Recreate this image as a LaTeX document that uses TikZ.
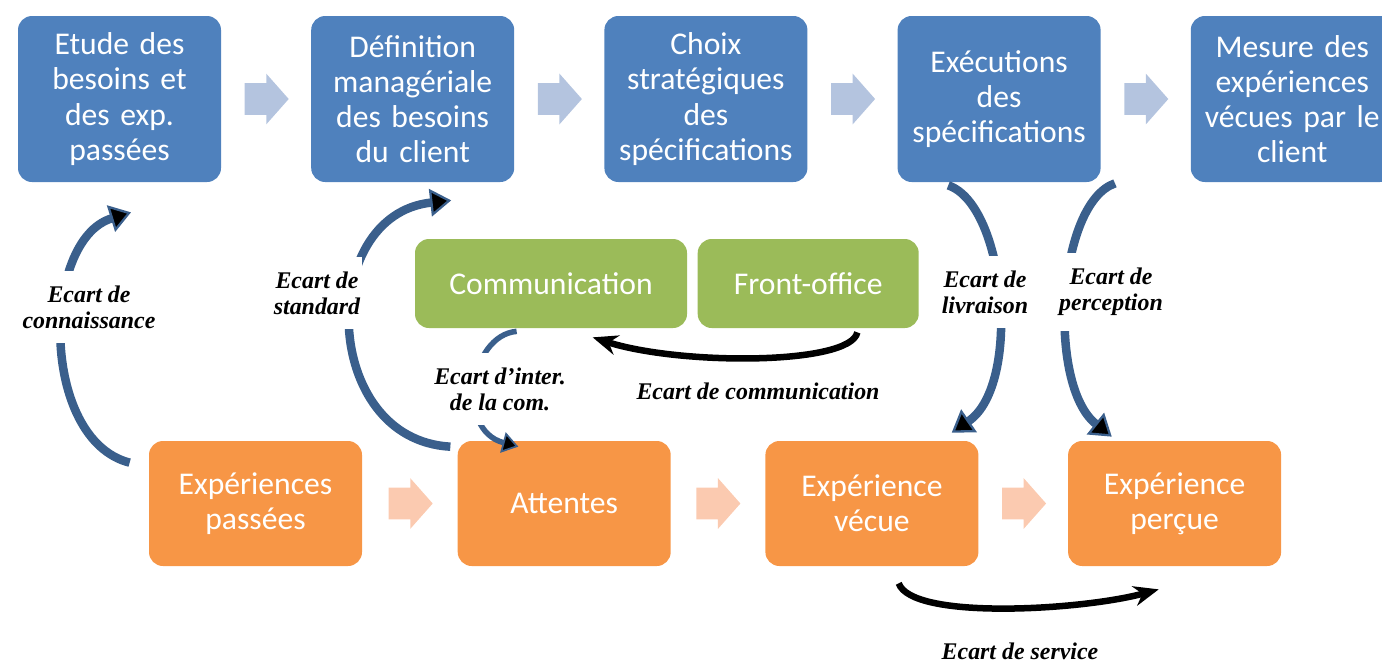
\documentclass[tikz,border=0pt]{standalone}
\usepackage{fontspec}
\setmainfont{Carlito}
\newfontfamily\gapfont{Liberation Serif}
\usetikzlibrary{shapes.arrows, arrows.meta, positioning, calc}
\definecolor{boxblue}{HTML}{4F81BD}
\definecolor{boxgreen}{HTML}{9BBB59}
\definecolor{boxorange}{HTML}{F79646}
\definecolor{flowblue}{HTML}{B4C4DF}
\definecolor{floworange}{HTML}{FBCAB0}
\definecolor{gapblue}{HTML}{3A5F8C}
\tikzstyle{topbox} = [rectangle, rounded corners=0.28cm, minimum width=4.06cm, minimum height=3.32cm, text width=3.9cm, inner xsep=0.08cm, align=center, fill=boxblue, text=white, font=\fontsize{18}{20}\selectfont]
\tikzstyle{midbox} = [rectangle, rounded corners=0.28cm, minimum height=1.78cm, inner xsep=0.08cm, align=center, fill=boxgreen, text=white, font=\fontsize{18}{20}\selectfont]
\tikzstyle{lowbox} = [rectangle, rounded corners=0.28cm, minimum width=4.26cm, minimum height=2.5cm, text width=4.1cm, inner xsep=0.08cm, align=center, fill=boxorange, text=white, font=\fontsize{18}{20}\selectfont]
\tikzstyle{flowb} = [single arrow, anchor=tail, fill=flowblue, minimum height=0.88cm, single arrow head extend=0.19cm, single arrow tip angle=97, inner xsep=0, inner ysep=0.31cm]
\tikzstyle{flowo} = [flowb, fill=floworange]
\tikzstyle{gap} = [draw=gapblue, line width=0.17cm, -{Triangle[length=0.42cm, width=0.55cm, fill=black, line width=1.3pt]}]
\tikzstyle{gapthin} = [draw=gapblue, line width=0.11cm, -{Triangle[length=0.32cm, width=0.42cm, fill=black, line width=1pt]}]
\tikzstyle{gapblack} = [draw=black, line width=0.13cm, -{Stealth[length=0.5cm, width=0.4cm]}]
\tikzstyle{gaplabel} = [fill=white, align=center, inner xsep=0.04cm, inner ysep=0.3cm, font=\fontsize{13.6}{14.7}\gapfont\bfseries\itshape]

\begin{document}
\begin{tikzpicture}
        \useasboundingbox (0,0) rectangle (27.64,-13.24);
        % Top row
        \node (etude) [topbox] at (2.39,-1.98) {Etude des\\besoins et\\des exp.\\passées};
        \node (defin) [topbox, right=1.79cm of etude] {Définition\\managériale\\des besoins\\du client};
        \node (choix) [topbox, right=1.79cm of defin] {Choix\\stratégiques\\des\\spécifications};
        \node (exec) [topbox, right=1.79cm of choix] {Exécutions\\des\\spécifications};
        \node (mesure) [topbox, right=1.79cm of exec] {Mesure des\\expériences\\vécues par le\\client};

        % Middle row
        \node (comm) [midbox, minimum width=5.44cm] at (11.02,-5.67) {Communication};
        \node (front) [midbox, minimum width=4.42cm, right=0.2cm of comm] {Front-office};

        % Bottom row
        \node (passees) [lowbox] at (5.11,-10.07) {Expériences\\passées};
        \node (attentes) [lowbox, right=1.9cm of passees] {Attentes};
        \node (vecue) [lowbox, right=1.88cm of attentes] {Expérience\\vécue};
        \node (percue) [lowbox, right=1.78cm of vecue] {Expérience\\perçue};

        % Flow arrows
        \node (fb1) [flowb] at ([xshift=0.46cm]etude.east) {};
        \node (fb2) [flowb] at ([xshift=0.46cm]defin.east) {};
        \node (fb3) [flowb] at ([xshift=0.46cm]choix.east) {};
        \node (fb4) [flowb] at ([xshift=0.46cm]exec.east) {};
        \node (fo1) [flowo] at ([xshift=0.52cm]passees.east) {};
        \node (fo2) [flowo] at ([xshift=0.5cm]attentes.east) {};
        \node (fo3) [flowo] at ([xshift=0.46cm]vecue.east) {};

        % Gaps
        \draw [gap] ([shift={(-0.38,-0.44)}]passees.north west) .. controls +(-1.8,0.46) and +(-1.8,-0.56) .. ([shift={(0.23,-0.6)}]etude.south);
        \draw [gap] ([shift={(-0.14,-0.12)}]attentes.north west) .. controls +(-2.6,0.14) and +(-2.7,-0.3) .. ([shift={(0.77,-0.36)}]defin.south);
        \draw [gapthin] ([shift={(2.04,-0.06)}]comm.south west) .. controls +(-0.94,-0.08) and +(-1.26,0.34) .. ([shift={(1.22,-0.12)}]attentes.north west);
        \draw [gapblack] ([shift={(3.2,-0.08)}]front.south west) .. controls +(-0.14,-0.66) and +(1.74,-0.56) .. ([shift={(3.56,-0.18)}]comm.south west);
        \draw [gap] ([shift={(1.02,-0.06)}]exec.south west) .. controls +(1.16,-0.4) and +(1.4,0.96) .. ([shift={(-0.54,0.16)}]vecue.north east);
        \draw [gap] ([shift={(0.28,-0.02)}]exec.south east) .. controls +(-1.16,-0.4) and +(-1.3,1.04) .. ([shift={(0.88,0.08)}]percue.north west);
        \draw [gapblack] ([shift={(-1.6,-0.34)}]vecue.south east) .. controls +(0.26,-0.74) and +(-1.54,-0.42) .. ([shift={(1.82,-0.46)}]percue.south west);

        % Gap labels
        \node (lconn) [gaplabel] at (1.78,-6.14) {Ecart de\\connaissance};
        \node (lstand) [gaplabel] at (6.34,-5.86) {Ecart de\\standard};
        \node (linter) [gaplabel] at (10.0,-7.78) {Ecart d’inter.\\de la com.};
        \node (lcomm) [gaplabel] at (15.16,-7.82) {Ecart de communication};
        \node (lliv) [gaplabel] at (19.7,-5.84) {Ecart de\\livraison};
        \node (lperc) [gaplabel] at (22.22,-5.84) {Ecart de\\perception};
        \node (lserv) [gaplabel] at (20.4,-13.02) {Ecart de service};
    \end{tikzpicture}
\end{document}
